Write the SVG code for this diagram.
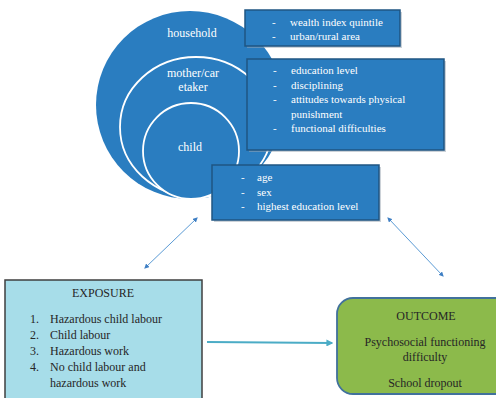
<svg xmlns="http://www.w3.org/2000/svg" width="496" height="398" viewBox="0 0 496 398">
<style>
.bl{fill:#2a7dc0}
.ring{fill:#2a7dc0;stroke:#ffffff;stroke-width:1.8}
.box{fill:#2a7dc0;stroke:#1f5582;stroke-width:1.5}
.sh{fill:#9aa6b2;opacity:0.5}
.wt{font-family:"Liberation Serif",serif;font-size:12px;fill:#ffffff;text-anchor:middle}
.bt{font-family:"Liberation Serif",serif;font-size:11px;fill:#ffffff}
.dt{font-family:"Liberation Serif",serif;font-size:12px;fill:#262626}
.c{text-anchor:middle}
.dg{stroke:#5b9bd5;stroke-width:1;fill:none;marker-start:url(#ah);marker-end:url(#ah)}
</style>
<defs>
<marker id="ah" viewBox="0 0 10 10" refX="5" refY="5" markerWidth="5" markerHeight="5" orient="auto-start-reverse" markerUnits="userSpaceOnUse"><path d="M0,0 L10,5 L0,10 z" fill="#3f7fc4"/></marker>
<marker id="ah2" viewBox="0 0 10 10" refX="8" refY="5" markerWidth="7" markerHeight="7" orient="auto" markerUnits="userSpaceOnUse"><path d="M0,0 L10,5 L0,10 z" fill="#4bacc6"/></marker>
</defs>
<rect width="496" height="398" fill="#ffffff"/>
<g id="household">
<circle class="bl" cx="190" cy="105" r="94"/>
<text class="wt" x="192" y="37">household</text>
</g>
<g id="mother-caretaker">
<ellipse class="ring" cx="196" cy="127" rx="76" ry="70"/>
<text class="wt" x="193" y="77">mother/car</text>
<text class="wt" x="193" y="91">etaker</text>
</g>
<g id="child">
<circle class="ring" cx="191" cy="151" r="48"/>
<text class="wt" x="190" y="151">child</text>
</g>
<g id="household-box">
<rect class="sh" x="247" y="12" width="155" height="36"/>
<rect class="box" x="245" y="10" width="155" height="36"/>
<text class="bt" x="272" y="26">-</text><text class="bt" x="290" y="26">wealth index quintile</text>
<text class="bt" x="272" y="40">-</text><text class="bt" x="290" y="40">urban/rural area</text>
</g>
<g id="mother-box">
<rect class="sh" x="249" y="61" width="197" height="91"/>
<rect class="box" x="247" y="59" width="197" height="91"/>
<text class="bt" x="273" y="74">-</text><text class="bt" x="291" y="74">education level</text>
<text class="bt" x="273" y="89">-</text><text class="bt" x="291" y="89">disciplining</text>
<text class="bt" x="273" y="103">-</text><text class="bt" x="291" y="103">attitudes towards physical</text>
<text class="bt" x="291" y="118">punishment</text>
<text class="bt" x="273" y="132">-</text><text class="bt" x="291" y="132">functional difficulties</text>
</g>
<g id="child-box">
<rect class="sh" x="214" y="167" width="167" height="55"/>
<rect class="box" x="212" y="165" width="167" height="55"/>
<text class="bt" x="241" y="181">-</text><text class="bt" x="257" y="181">age</text>
<text class="bt" x="241" y="196">-</text><text class="bt" x="257" y="196">sex</text>
<text class="bt" x="241" y="210">-</text><text class="bt" x="257" y="210">highest education level</text>
</g>
<g id="exposure">
<rect x="5" y="280" width="197" height="125" fill="#a7dde9" stroke="#3f3f3f" stroke-width="1.5"/>
<text class="dt c" x="103" y="297">EXPOSURE</text>
<text class="dt" x="30" y="323">1.</text><text class="dt" x="50" y="323">Hazardous child labour</text>
<text class="dt" x="30" y="339">2.</text><text class="dt" x="50" y="339">Child labour</text>
<text class="dt" x="30" y="355">3.</text><text class="dt" x="50" y="355">Hazardous work</text>
<text class="dt" x="30" y="371">4.</text><text class="dt" x="50" y="371">No child labour and</text>
<text class="dt" x="50" y="387">hazardous work</text>
</g>
<g id="outcome">
<rect x="337" y="298" width="175" height="96" rx="16" fill="#8cba4b" stroke="#41719c" stroke-width="1.8"/>
<text class="dt c" x="426" y="320">OUTCOME</text>
<text class="dt c" x="425" y="346">Psychosocial functioning</text>
<text class="dt c" x="425" y="361">difficulty</text>
<text class="dt c" x="425" y="387">School dropout</text>
</g>
<g id="connectors">
<line class="dg" x1="196" y1="219" x2="146" y2="267"/>
<line class="dg" x1="389" y1="219" x2="442" y2="275"/>
<line x1="207" y1="342" x2="332" y2="343" stroke="#4bacc6" stroke-width="2" marker-end="url(#ah2)"/>
</g>
</svg>
